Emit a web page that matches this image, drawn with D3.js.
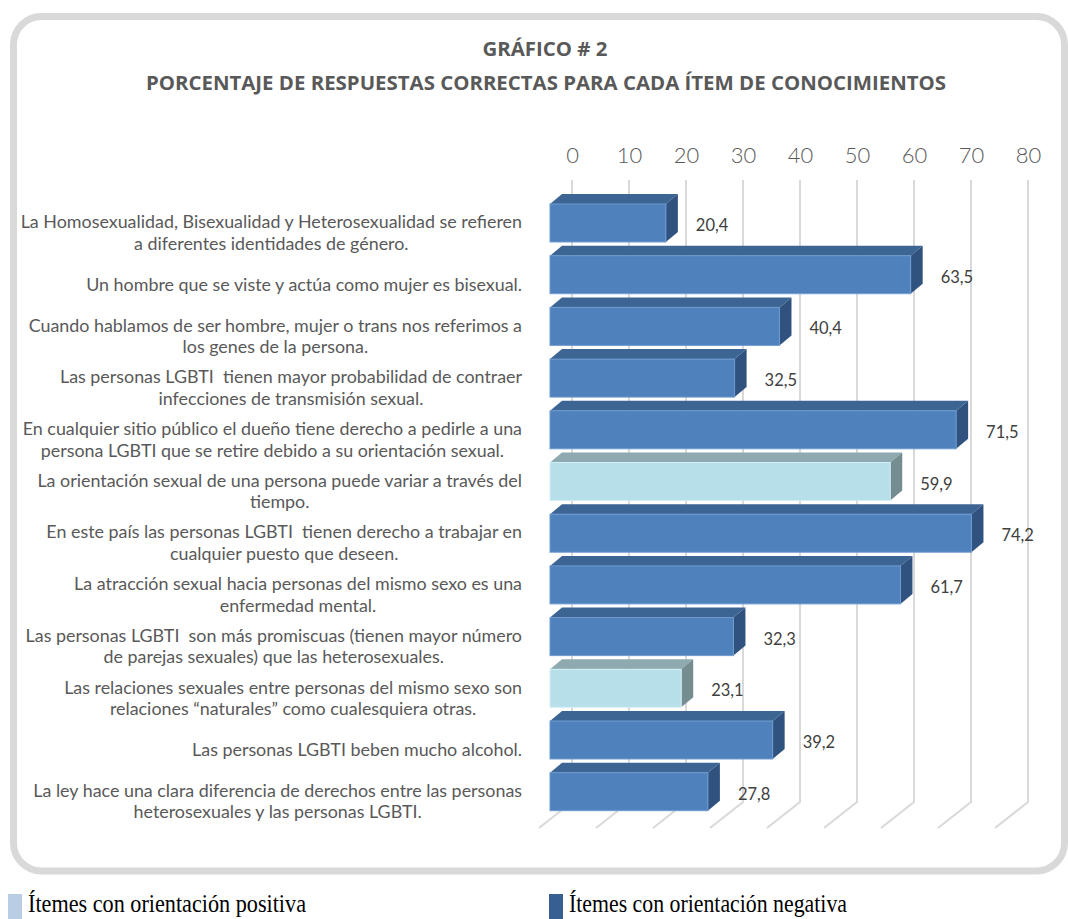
<!DOCTYPE html>
<html>
<head>
<meta charset="utf-8">
<script src="https://cdn.jsdelivr.net/npm/d3@7/dist/d3.min.js"></script>
<style>
  html, body { margin: 0; padding: 0; background: #ffffff; }
  svg { display: block; }
  text { white-space: pre; }
</style>
</head>
<body>
<svg id="chart" width="1068" height="919"></svg>
<script>
// ---------------- DATA ----------------
const titleLines = ["GRÁFICO # 2", "PORCENTAJE DE RESPUESTAS CORRECTAS PARA CADA ÍTEM DE CONOCIMIENTOS"];
const categories = [
  ["La Homosexualidad, Bisexualidad y Heterosexualidad se refieren", "a diferentes identidades de género."],
  ["Un hombre que se viste y actúa como mujer es bisexual."],
  ["Cuando hablamos de ser hombre, mujer o trans nos referimos a", "los genes de la persona."],
  ["Las personas LGBTI  tienen mayor probabilidad de contraer", "infecciones de transmisión sexual."],
  ["En cualquier sitio público el dueño tiene derecho a pedirle a una", "persona LGBTI que se retire debido a su orientación sexual."],
  ["La orientación sexual de una persona puede variar a través del", "tiempo."],
  ["En este país las personas LGBTI  tienen derecho a trabajar en", "cualquier puesto que deseen."],
  ["La atracción sexual hacia personas del mismo sexo es una", "enfermedad mental."],
  ["Las personas LGBTI  son más promiscuas (tienen mayor número", "de parejas sexuales) que las heterosexuales."],
  ["Las relaciones sexuales entre personas del mismo sexo son", "relaciones “naturales” como cualesquiera otras."],
  ["Las personas LGBTI beben mucho alcohol."],
  ["La ley hace una clara diferencia de derechos entre las personas", "heterosexuales y las personas LGBTI."]
];
const values = [20.4, 63.5, 40.4, 32.5, 71.5, 59.9, 74.2, 61.7, 32.3, 23.1, 39.2, 27.8];
const orientation = ["neg","neg","neg","neg","neg","pos","neg","neg","neg","pos","neg","neg"];
const tickValues = [0, 10, 20, 30, 40, 50, 60, 70, 80];
const legendLabels = { pos: "Ítemes con orientación positiva", neg: "Ítemes con orientación negativa" };

// ---------------- STYLE ----------------
const palette = {
  neg: { front: "#4f81bd", top: "#3c6594", side: "#30527e", edge: "#6f9bd0", legend: "#375f92" },
  pos: { front: "#b7dfe9", top: "#8ea9af", side: "#758c91", edge: "#d3eef5", legend: "#b9cde5" }
};
const textColor = "#595959";
const labelColor = "#404040";
const gridColor = "#d9d9d9";
const sans = "'Open Sans', 'DejaVu Sans', sans-serif";
const labelFont = "Lato, 'Open Sans', sans-serif";

const svg = d3.select("#chart");

// frame
svg.append("rect")
  .attr("x", 13.5).attr("y", 16.5).attr("width", 1051).attr("height", 854.5)
  .attr("rx", 28).attr("ry", 28)
  .attr("fill", "#ffffff").attr("stroke", gridColor).attr("stroke-width", 7);

// title
const t2 = svg.append("text").attr("x", 546).attr("y", 82)
  .attr("text-anchor", "middle").attr("dominant-baseline", "central")
  .attr("font-family", sans).attr("font-weight", "bold").attr("fill", textColor)
  .attr("font-size", 100).text(titleLines[1]);
const tSize = 100 * 801 / t2.node().getComputedTextLength();
t2.attr("font-size", tSize);
svg.append("text").attr("x", 545).attr("y", 48)
  .attr("text-anchor", "middle").attr("dominant-baseline", "central")
  .attr("font-family", sans).attr("font-weight", "bold").attr("fill", textColor)
  .attr("font-size", tSize).text(titleLines[0]);

// scales
const xGrid = d3.scaleLinear().domain([0, 80]).range([572, 1028]);
const xBar = d3.scaleLinear().domain([0, 80]).range([550, 1004.4]);
const y = d3.scaleBand().domain(d3.range(values.length))
  .range([197.15, 817.55]).paddingInner(0.265).paddingOuter(0.1325);
const depth = { dx: 12, dy: -10 };
const gridTop = 180, gridBottom = 802, floor = { dx: -33, dy: 26 };

// gridlines
const grid = svg.append("g");
tickValues.forEach(v => {
  const gx = xGrid(v);
  grid.append("path")
    .attr("d", `M${gx},${gridTop} L${gx},${gridBottom} L${gx + floor.dx},${gridBottom + floor.dy}`)
    .attr("fill", "none").attr("stroke", gridColor).attr("stroke-width", 2);
});

// top axis labels
const axis = d3.axisTop(xGrid).tickValues(tickValues).tickSize(0).tickPadding(0);
const axG = svg.append("g").attr("transform", "translate(0,155)").call(axis);
axG.select(".domain").remove();
axG.selectAll("text")
  .attr("dy", "0.35em").attr("y", 0)
  .attr("font-family", labelFont).attr("font-weight", 300)
  .attr("font-size", 22).attr("fill", textColor);

// bars
const bars = svg.append("g");
values.forEach((v, i) => {
  const c = palette[orientation[i]];
  const x0 = xBar(0), x1 = xBar(v), yt = y(i), h = y.bandwidth();
  const g = bars.append("g");
  g.append("polygon")
    .attr("points", [[x0, yt], [x0 + depth.dx, yt + depth.dy], [x1 + depth.dx, yt + depth.dy], [x1, yt]].join(" "))
    .attr("fill", c.top);
  g.append("polygon")
    .attr("points", [[x1, yt], [x1 + depth.dx, yt + depth.dy], [x1 + depth.dx, yt + h + depth.dy], [x1, yt + h]].join(" "))
    .attr("fill", c.side);
  g.append("rect")
    .attr("x", x0).attr("y", yt).attr("width", x1 - x0).attr("height", h)
    .attr("fill", c.front).attr("stroke", c.edge).attr("stroke-width", 1);
  // value label
  g.append("text")
    .attr("x", x1 + depth.dx + 18).attr("y", yt + h / 2 + 2)
    .attr("dominant-baseline", "central")
    .attr("font-family", labelFont).attr("font-size", 16.5).attr("fill", labelColor)
    .text(d3.format(".1f")(v).replace(".", ","));
});

// category labels
const labG = svg.append("g");
const probeA = labG.append("text").attr("font-family", labelFont).attr("font-size", 100).text(categories[4][0]);
const probeB = labG.append("text").attr("font-family", labelFont).attr("font-size", 100).text(categories[0][0]);
const catSize = (100 * 514 / probeA.node().getComputedTextLength() + 100 * 487 / probeB.node().getComputedTextLength()) / 2;
probeA.remove(); probeB.remove();
const lineH = 21.5, labelRight = 522;
categories.forEach((lines, i) => {
  const cy = y(i) + y.bandwidth() / 2 + 9;
  const txt = labG.append("text")
    .attr("font-family", labelFont).attr("font-size", catSize).attr("fill", textColor)
    .attr("text-anchor", "middle").attr("dominant-baseline", "central");
  const spans = lines.map((ln, k) => txt.append("tspan")
    .attr("y", cy + (k - (lines.length - 1) / 2) * lineH).text(ln));
  const w = d3.max(spans, s => s.node().getComputedTextLength());
  spans.forEach(s => s.attr("x", labelRight - w / 2));
});

// legend
const legend = [
  { key: "pos", x: 8 },
  { key: "neg", x: 549 }
];
legend.forEach(d => {
  svg.append("rect").attr("x", d.x).attr("y", 894).attr("width", 14).attr("height", 25)
    .attr("fill", palette[d.key].legend);
  svg.append("text").attr("x", d.x + 20).attr("y", 912)
    .attr("font-family", "'Liberation Serif', 'Times New Roman', serif")
    .attr("font-size", 25).attr("fill", "#000000")
    .attr("textLength", 278).attr("lengthAdjust", "spacingAndGlyphs")
    .text(legendLabels[d.key]);
});
</script>
</body>
</html>
